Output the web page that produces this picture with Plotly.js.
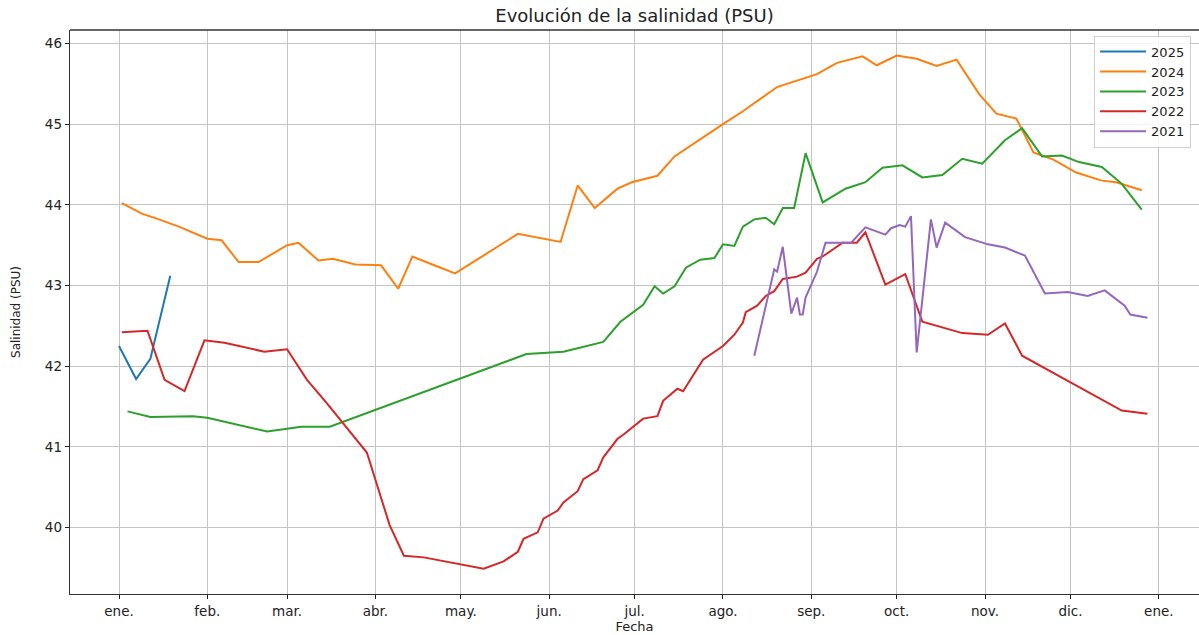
<!DOCTYPE html>
<html>
<head>
<meta charset="utf-8">
<script src="https://cdn.plot.ly/plotly-3.0.1.min.js"></script>
<style>
html,body{margin:0;padding:0;background:#fff;}
#chart{width:1199px;height:635px;}
</style>
</head>
<body>
<div id="chart"></div>
<script>
// Day of year (0 = 1 de enero) and salinity (PSU) per year
const dias2025 = [0, 6, 11, 18];
const sal2025  = [42.25, 41.84, 42.09, 43.12];

const dias2024 = [1, 8, 14, 21, 31, 36, 42, 49, 59, 63, 70, 75, 83, 92, 98, 103, 110, 118, 140, 155, 161, 167, 175, 180, 189, 195, 212, 219, 231, 245, 252, 261, 266, 273, 280, 287, 294, 302, 308, 315, 321, 328, 336, 345, 350, 359];
const sal2024  = [44.02, 43.89, 43.82, 43.73, 43.58, 43.56, 43.29, 43.29, 43.50, 43.53, 43.31, 43.33, 43.26, 43.25, 42.96, 43.36, 43.26, 43.15, 43.64, 43.54, 44.24, 43.96, 44.20, 44.28, 44.36, 44.60, 45.00, 45.16, 45.46, 45.62, 45.76, 45.84, 45.73, 45.85, 45.81, 45.72, 45.80, 45.37, 45.13, 45.07, 44.65, 44.56, 44.40, 44.30, 44.28, 44.18];

const dias2023 = [3, 11, 26, 31, 52, 64, 74, 143, 156, 170, 176, 184, 188, 191, 195, 199, 204, 209, 212, 216, 219, 223, 227, 230, 233, 237, 241, 247, 255, 262, 268, 275, 282, 289, 296, 303, 311, 317, 324, 331, 337, 345, 352, 359];
const sal2023  = [41.44, 41.37, 41.38, 41.36, 41.19, 41.25, 41.25, 42.15, 42.18, 42.30, 42.55, 42.76, 42.99, 42.90, 42.99, 43.22, 43.32, 43.34, 43.51, 43.49, 43.73, 43.82, 43.84, 43.76, 43.96, 43.96, 44.64, 44.03, 44.20, 44.28, 44.46, 44.49, 44.34, 44.37, 44.57, 44.51, 44.80, 44.95, 44.60, 44.61, 44.53, 44.47, 44.26, 43.94];

const dias2022 = [1, 10, 16, 23, 30, 37, 51, 59, 66, 73, 87, 95, 100, 107, 128, 135, 140, 142, 147, 149, 154, 156, 161, 163, 168, 170, 175, 177, 184, 189, 191, 196, 198, 205, 212, 216, 219, 220, 224, 227, 230, 233, 238, 241, 245, 247, 254, 259, 262, 269, 276, 282, 296, 305, 311, 317, 334, 352, 361];
const sal2022  = [42.42, 42.44, 41.83, 41.69, 42.32, 42.29, 42.18, 42.21, 41.83, 41.54, 40.93, 40.03, 39.65, 39.63, 39.49, 39.58, 39.70, 39.86, 39.94, 40.11, 40.21, 40.31, 40.45, 40.60, 40.71, 40.87, 41.10, 41.15, 41.35, 41.38, 41.57, 41.72, 41.69, 42.08, 42.25, 42.39, 42.54, 42.67, 42.75, 42.87, 42.93, 43.08, 43.11, 43.16, 43.33, 43.36, 43.53, 43.53, 43.66, 43.01, 43.14, 42.55, 42.41, 42.39, 42.53, 42.13, 41.80, 41.45, 41.41];

const dias2021 = [223, 230, 231, 233, 236, 238, 239, 240, 241, 245, 248, 257, 262, 269, 271, 274, 276, 278, 280, 285, 287, 290, 297, 305, 311, 318, 325, 333, 340, 346, 353, 355, 361];
const sal2021  = [42.13, 43.20, 43.17, 43.48, 42.65, 42.85, 42.64, 42.64, 42.85, 43.17, 43.53, 43.53, 43.72, 43.63, 43.71, 43.75, 43.73, 43.86, 42.17, 43.82, 43.47, 43.78, 43.60, 43.51, 43.47, 43.37, 42.90, 42.92, 42.87, 42.94, 42.75, 42.64, 42.60];

const series = [
  {name: '2025', dias: dias2025, sal: sal2025, color: '#1f77b4'},
  {name: '2024', dias: dias2024, sal: sal2024, color: '#ff7f0e'},
  {name: '2023', dias: dias2023, sal: sal2023, color: '#2ca02c'},
  {name: '2022', dias: dias2022, sal: sal2022, color: '#d62728'},
  {name: '2021', dias: dias2021, sal: sal2021, color: '#9467bd'}
];

const mesesTexto = ['ene.', 'feb.', 'mar.', 'abr.', 'may.', 'jun.', 'jul.', 'ago.', 'sep.', 'oct.', 'nov.', 'dic.', 'ene.'];
const mesesFecha = ['2001-01-01', '2001-02-01', '2001-03-01', '2001-04-01', '2001-05-01', '2001-06-01', '2001-07-01', '2001-08-01', '2001-09-01', '2001-10-01', '2001-11-01', '2001-12-01', '2002-01-01'];

// common reference year (non-leap) so all years overlay on one axis
function diaAFecha(d) {
  const t = Date.UTC(2001, 0, 1) + d * 86400000;
  return new Date(t).toISOString().replace('T', ' ').replace('Z', '');
}

const traces = series.map(s => ({
  type: 'scatter',
  mode: 'lines',
  name: s.name,
  x: s.dias.map(diaAFecha),
  y: s.sal,
  line: {color: s.color, width: 2}
}));

const font = 'DejaVu Sans, sans-serif';
const layout = {
  width: 1199,
  height: 635,
  margin: {l: 70, r: 0, t: 30, b: 41, pad: 0},
  paper_bgcolor: '#ffffff',
  plot_bgcolor: '#ffffff',
  font: {family: font, color: '#222222', size: 13},
  title: {
    text: 'Evolución de la salinidad (PSU)',
    font: {family: font, size: 18, color: '#222222'},
    x: 0.5, xref: 'paper', xanchor: 'center',
    y: 0.975, yref: 'container', yanchor: 'middle'
  },
  xaxis: {
    type: 'date',
    range: [diaAFecha(-17.2), diaAFecha(379.1)],
    tickmode: 'array',
    tickvals: mesesFecha,
    ticktext: mesesTexto,
    tickfont: {size: 13.5},
    ticks: 'outside', ticklen: 4, tickwidth: 1, tickcolor: '#222',
    showgrid: true, gridcolor: '#c4c4c4', gridwidth: 1,
    showline: true, linecolor: '#333333', linewidth: 1.3, mirror: false,
    zeroline: false,
    automargin: false,
    title: {text: 'Fecha', font: {size: 13}, standoff: 4}
  },
  yaxis: {
    range: [39.176, 46.167],
    tickvals: [40, 41, 42, 43, 44, 45, 46],
    tickfont: {size: 13.5},
    ticks: 'outside', ticklen: 4, tickwidth: 1, tickcolor: '#222',
    showgrid: true, gridcolor: '#c4c4c4', gridwidth: 1,
    showline: true, linecolor: '#333333', linewidth: 1.3, mirror: false,
    zeroline: false,
    automargin: false,
    title: {text: 'Salinidad (PSU)', font: {size: 12}, standoff: 21}
  },
  shapes: [{
    type: 'line', xref: 'paper', yref: 'paper', x0: 0, x1: 1, y0: 1, y1: 1,
    line: {color: '#333333', width: 1.3}
  }],
  legend: {
    x: 0.993, xanchor: 'right', y: 0.99, yanchor: 'top',
    bgcolor: 'rgba(255,255,255,0.85)', bordercolor: '#d0d0d0', borderwidth: 1,
    font: {size: 13, color: '#222222'},
    itemwidth: 46,
    tracegroupgap: 0
  },
  showlegend: true
};

Plotly.newPlot('chart', traces, layout, {displayModeBar: false, staticPlot: true});
</script>
</body>
</html>
